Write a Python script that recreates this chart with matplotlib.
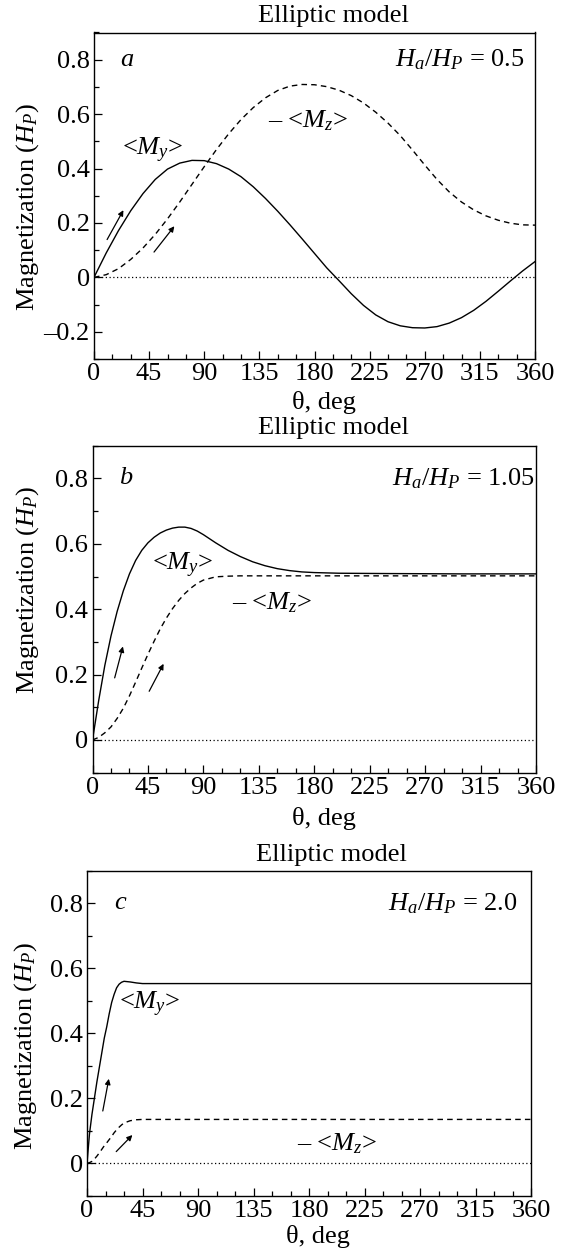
import matplotlib
matplotlib.use('Agg')
import matplotlib.pyplot as plt
from matplotlib.ticker import MultipleLocator, FuncFormatter

plt.rcParams['font.family'] = ['Liberation Serif', 'DejaVu Serif']
plt.rcParams['mathtext.fontset'] = 'custom'
plt.rcParams['mathtext.rm'] = 'Liberation Serif'
plt.rcParams['mathtext.it'] = 'Liberation Serif:italic'

# ---- panel a: Ha/Hp = 0.5 ----
theta_a = list(range(0, 361, 10))
my_a = [0, 0.09, 0.172, 0.245, 0.308, 0.36, 0.398, 0.42, 0.43, 0.429,
        0.418, 0.398, 0.37, 0.333, 0.29, 0.243, 0.193, 0.141, 0.088, 0.035,
        -0.012, -0.06, -0.103, -0.138, -0.163, -0.178, -0.185, -0.186, -0.181, -0.168,
        -0.148, -0.121, -0.088, -0.051, -0.013, 0.024, 0.058]
mz_a = [0, 0.01, 0.032, 0.066, 0.108, 0.158, 0.215, 0.277, 0.342, 0.407,
        0.47, 0.528, 0.58, 0.624, 0.66, 0.687, 0.703, 0.709, 0.708, 0.701,
        0.688, 0.668, 0.641, 0.607, 0.567, 0.521, 0.468, 0.413, 0.36, 0.314,
        0.277, 0.248, 0.226, 0.21, 0.199, 0.193, 0.192]

# ---- panel b: Ha/Hp = 1.05 ----
theta_b = [0, 5, 10, 15, 20, 25, 30, 35, 40, 45, 50, 55, 60, 65, 70, 75, 80, 85, 90,
           100, 110, 120, 130, 140, 150, 160, 170, 180, 200, 240, 300, 360]
my_b = [0, 0.12, 0.228, 0.318, 0.393, 0.456, 0.508, 0.549, 0.58, 0.603, 0.62, 0.633,
        0.642, 0.648, 0.651, 0.651, 0.647, 0.639, 0.628,
        0.603, 0.58, 0.561, 0.545, 0.533, 0.524, 0.518, 0.514, 0.512, 0.51, 0.509, 0.508, 0.508]
mz_b = [0, 0.008, 0.022, 0.04, 0.066, 0.097, 0.135, 0.177, 0.22, 0.262, 0.302, 0.34,
        0.373, 0.402, 0.427, 0.448, 0.465, 0.479, 0.489,
        0.499, 0.501, 0.502, 0.502, 0.502, 0.502, 0.502, 0.502, 0.502, 0.502, 0.502, 0.502, 0.502]

# ---- panel c: Ha/Hp = 2.0 ----
theta_c = [0, 2, 4, 6, 8, 10, 12, 14, 16, 18, 20, 22, 24, 26, 28, 30,
           35, 40, 45, 50, 60, 90, 180, 270, 360]
my_c = [0, 0.09, 0.15, 0.2, 0.25, 0.295, 0.34, 0.385, 0.42, 0.46, 0.495, 0.52,
        0.54, 0.551, 0.557, 0.56, 0.558, 0.555, 0.553, 0.553, 0.553, 0.553, 0.553, 0.553, 0.553]
mz_c = [0, 0.002, 0.006, 0.013, 0.022, 0.032, 0.043, 0.054, 0.063, 0.073, 0.083, 0.094,
        0.103, 0.111, 0.118, 0.124, 0.131, 0.134, 0.135, 0.135, 0.135, 0.135, 0.135, 0.135, 0.135]

W, H = 567, 1252
FS = 19

fig = plt.figure(figsize=(W / 100, H / 100), dpi=100)


def fx(px):
    return px / W


def fy(py):
    return 1 - py / H


def yfmt(v, pos):
    if abs(v) < 1e-9:
        return '0'
    return f'{v:.1f}'.replace('-', '\u2013')


def panel(box, theta, my, mz, ylim, yticks, letter, ratio, my_pos, mz_pos,
          arrow_my, arrow_mz, ratio_x, title_xy, xlab_xy, ylab_xy):
    left, top, right, bottom = box
    ax = fig.add_axes([fx(left), fy(bottom), fx(right - left), (bottom - top) / H])
    ax.plot(theta, my, color='k', lw=1.0)
    ax.plot(theta, mz, color='k', lw=1.0, ls=(0, (4, 3)))
    ax.axhline(0, color='k', lw=0.9, ls=(0, (1, 2)))
    ax.set_xlim(0, 360)
    ax.set_ylim(*ylim)
    ax.set_xticks(range(0, 361, 45))
    ax.xaxis.set_minor_locator(MultipleLocator(15))
    ax.set_yticks(yticks)
    ax.yaxis.set_minor_locator(MultipleLocator(0.1))
    ax.yaxis.set_major_formatter(FuncFormatter(yfmt))
    ax.tick_params(which='both', direction='in', top=False, right=False,
                   labelsize=FS, pad=3)
    ax.tick_params(which='major', length=6, width=0.9)
    ax.tick_params(which='minor', length=3.5, width=0.9)
    for s in ax.spines.values():
        s.set_linewidth(1.0)

    ax.text(27, 0.8, letter, fontsize=FS, style='italic', ha='center', va='center')
    ax.text(ratio_x, 0.8, r'$H_a/H_P$ = ' + ratio, fontsize=FS, ha='right', va='center')
    ax.text(my_pos[0], my_pos[1], r'<$M_y$>', fontsize=FS, ha='center', va='center')
    ax.text(mz_pos[0], mz_pos[1], '\u2013 <$M_z$>', fontsize=FS, ha='center', va='center')
    for (x0, y0, x1, y1) in (arrow_my, arrow_mz):
        ax.annotate('', xy=(x1, y1), xytext=(x0, y0),
                    arrowprops=dict(arrowstyle='-|>', color='k', lw=0.9,
                                    mutation_scale=8, shrinkA=0, shrinkB=0))

    fig.text(fx(title_xy[0]), fy(title_xy[1]), 'Elliptic model', fontsize=FS,
             ha='center', va='center')
    fig.text(fx(xlab_xy[0]), fy(xlab_xy[1]), '\u03b8, deg', fontsize=FS,
             ha='center', va='center')
    fig.text(fx(ylab_xy[0]), fy(ylab_xy[1]), r'Magnetization ($H_P$)', fontsize=FS,
             ha='center', va='center', rotation=90)
    return ax


panel((94, 32.5, 535, 359), theta_a, my_a, mz_a, (-0.3, 0.9),
      [-0.2, 0, 0.2, 0.4, 0.6, 0.8], 'a', '0.5', (48, 0.465), (175, 0.575),
      (10.7, 0.139, 24, 0.247), (49, 0.093, 65.6, 0.188), 351,
      (333, 16), (324, 402), (28, 207))

panel((92.5, 445.7, 536, 772.7), theta_b, my_b, mz_b, (-0.1, 0.9),
      [0, 0.2, 0.4, 0.6, 0.8], 'b', '1.05', (72.8, 0.535), (146, 0.42),
      (18, 0.19, 24.7, 0.286), (46, 0.149, 57.7, 0.233), 359,
      (333, 428), (324, 818), (28, 590))

panel((87, 870.8, 531, 1195.8), theta_c, my_c, mz_c, (-0.1, 0.9),
      [0, 0.2, 0.4, 0.6, 0.8], 'c', '2.0', (51, 0.49), (203, 0.061),
      (12.8, 0.161, 17.7, 0.26), (23.7, 0.036, 36.8, 0.087), 349,
      (331, 855), (318, 1236), (26, 1046))

fig.savefig('out.png', dpi=100)
